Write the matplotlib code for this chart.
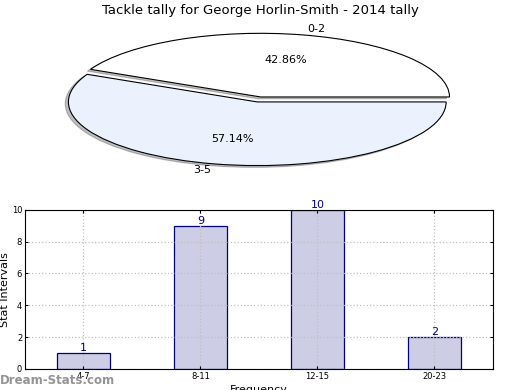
import matplotlib
matplotlib.use('Agg')
import matplotlib.pyplot as plt
import numpy as np

title = 'Tackle tally for George Horlin-Smith - 2014 tally'
pie_labels = ['0-2', '3-5']
pie_values = [3, 4]
pie_colors = ['#ffffff', '#ebf1fd']

bar_labels = ['4-7', '8-11', '12-15', '20-23']
bar_values = [1, 9, 10, 2]

fig = plt.figure(figsize=(5.2, 3.9), dpi=100)

# pie on top, squashed into an ellipse
ax1 = fig.add_axes([0.044, 0.541, 0.908, 0.408])
wedges, texts, autotexts = ax1.pie(pie_values, labels=pie_labels, colors=pie_colors,
                                   autopct='%.2f%%', explode=(0.04, 0.04),
                                   shadow={'ox': -0.012, 'oy': -0.02, 'alpha': 0.35},
                                   startangle=0, radius=1,
                                   wedgeprops=dict(edgecolor='black', linewidth=0.8),
                                   textprops=dict(fontsize=8))
ax1.set_aspect('auto')
ax1.set_xlim(-1.25, 1.25)
ax1.set_ylim(-1.25, 1.25)
ax1.axis('off')
fig.text(0.5, 0.974, title, ha='center', va='center', fontsize=9.5)

# bar chart below
ax2 = fig.add_axes([0.048, 0.054, 0.9, 0.408])
x = np.arange(len(bar_values))
ax2.bar(x, bar_values, width=0.45, color='#cdcde5', edgecolor='#000080', linewidth=0.9)
for xi, v in zip(x, bar_values):
    ax2.text(xi, v, str(v), ha='center', va='bottom', fontsize=8, color='#000080')
ax2.set_xlim(-0.5, 3.5)
ax2.set_ylim(0, 10)
ax2.set_yticks(np.arange(0, 11, 2))
ax2.set_xticks(x)
ax2.set_xticklabels(bar_labels)
ax2.tick_params(labelsize=6, length=2, pad=2, direction='in', top=True, right=True)
ax2.grid(True, linestyle=':', color='#c0c0c0', linewidth=0.9)
ax2.set_axisbelow(False)
for sp in ax2.spines.values():
    sp.set_zorder(5)
ax2.set_xlabel('Frequency', fontsize=8, labelpad=3)
ax2.set_ylabel('Stat Intervals', fontsize=8, labelpad=1)

fig.text(0.0, 1 - 380 / 390, 'Dream-Stats.com', ha='left', va='center',
         fontsize=8.5, color='#888888', fontweight='bold', alpha=0.9)

fig.savefig('out.png', dpi=100)
